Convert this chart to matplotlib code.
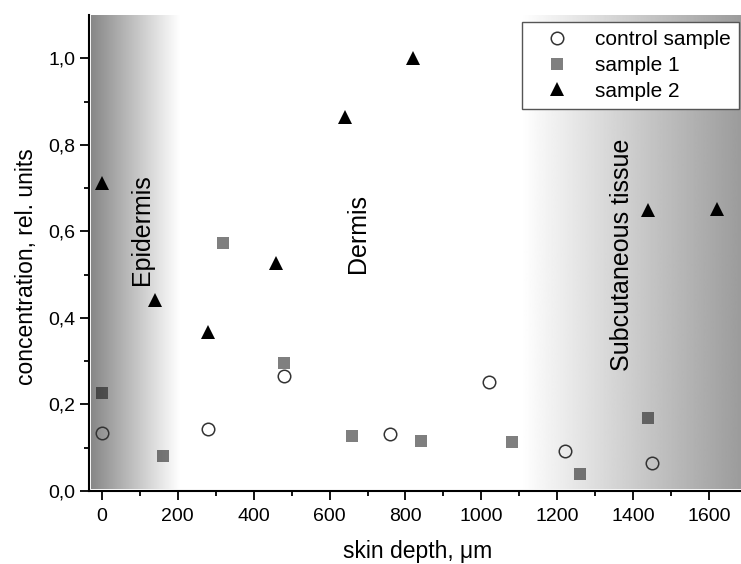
import numpy as np
import matplotlib
matplotlib.use("Agg")
import matplotlib.pyplot as plt

plt.rcParams['font.family'] = ['Liberation Sans', 'DejaVu Sans']

# ---- data ----
control_x = [0, 280, 480, 760, 1020, 1220, 1450]
control_y = [0.134, 0.143, 0.266, 0.132, 0.252, 0.092, 0.065]

s1_x = [0, 160, 320, 480, 660, 840, 1080, 1260, 1440]
s1_y = [0.227, 0.081, 0.573, 0.295, 0.126, 0.115, 0.113, 0.039, 0.168]

s2_x = [0, 140, 280, 460, 640, 820, 1440, 1620]
s2_y = [0.711, 0.442, 0.367, 0.527, 0.865, 1.0, 0.649, 0.652]

labels = ['control sample', 'sample 1', 'sample 2']
regions = ['Epidermis', 'Dermis', 'Subcutaneous tissue']
region_x = [105, 675, 1370]
region_y = [0.603, 0.594, 0.546]

xticks = [0, 200, 400, 600, 800, 1000, 1200, 1400, 1600]
yticks = [0.0, 0.2, 0.4, 0.6, 0.8, 1.0]

# ---- figure ----
fig = plt.figure(figsize=(7.41, 5.64), dpi=100)
ax = fig.add_axes([0.1201, 0.1294, 0.888, 0.844])
xmin, xmax = -34, 1700
ymin, ymax = 0.0, 1.1

# gradients
g = np.linspace(0, 1, 256).reshape(1, -1)
left_grad = 0.53 + 0.47 * g
ax.imshow(left_grad, cmap='gray', vmin=0, vmax=1, aspect='auto',
          extent=[xmin + 6, 205, ymin + 0.005, ymax], zorder=0, interpolation='bilinear')
right_grad = 1.0 - 0.40 * g
ax.imshow(right_grad, cmap='gray', vmin=0, vmax=1, aspect='auto',
          extent=[1105, xmax, ymin + 0.005, ymax], zorder=0, interpolation='bilinear')
ax.set_xlim(xmin, xmax)
ax.set_ylim(ymin, ymax)

ax.plot(control_x, control_y, 'o', ms=9, mfc='none', mec='#333333', mew=1.1,
        label=labels[0], zorder=3)
ax.plot(s1_x, s1_y, 's', ms=8, color='black', alpha=0.5, mew=0,
        label=labels[1], zorder=3)
ax.plot(s2_x, s2_y, '^', ms=10, color='black', mew=0, label=labels[2], zorder=3)

for t, x, y in zip(regions, region_x, region_y):
    ax.text(x, y, t, rotation=90, ha='center', va='center', fontsize=18, zorder=4)

# spines
for s in ['top', 'right']:
    ax.spines[s].set_visible(False)
for s in ['left', 'bottom']:
    ax.spines[s].set_linewidth(1.5)

ax.set_xticks(xticks)
ax.set_xticklabels([str(v) for v in xticks])
ax.set_yticks(yticks)
ax.set_yticklabels([f"{v:.1f}".replace('.', ',') for v in yticks])
ax.set_xticks(np.arange(100, 1700, 200), minor=True)
ax.set_yticks(np.arange(0.1, 1.1, 0.2), minor=True)
ax.tick_params(which='major', direction='out', length=6.5, width=1.3, labelsize=14)
ax.tick_params(which='minor', direction='out', length=3.5, width=1.3)
ax.tick_params(axis='x', which='major', pad=5.5)
ax.tick_params(axis='y', which='major', pad=3.5)

ax.set_xlabel('skin depth, \u03bcm', fontsize=16.5)
ax.set_ylabel('concentration, rel. units', fontsize=16.5)
ax.xaxis.set_label_coords(0.5, -0.102)
ax.yaxis.set_label_coords(-0.078, 0.472)

leg = ax.legend(loc='upper right', bbox_to_anchor=(739 / 741, 1 - 22 / 564),
                bbox_transform=fig.transFigure, fontsize=15, frameon=True,
                fancybox=False, framealpha=1, edgecolor='#555555',
                borderpad=0.4, labelspacing=0.32, handlelength=2.6,
                handletextpad=0.5, borderaxespad=0)
leg.get_frame().set_linewidth(1.0)
leg.set_zorder(5)

fig.savefig('out.png', dpi=100)
